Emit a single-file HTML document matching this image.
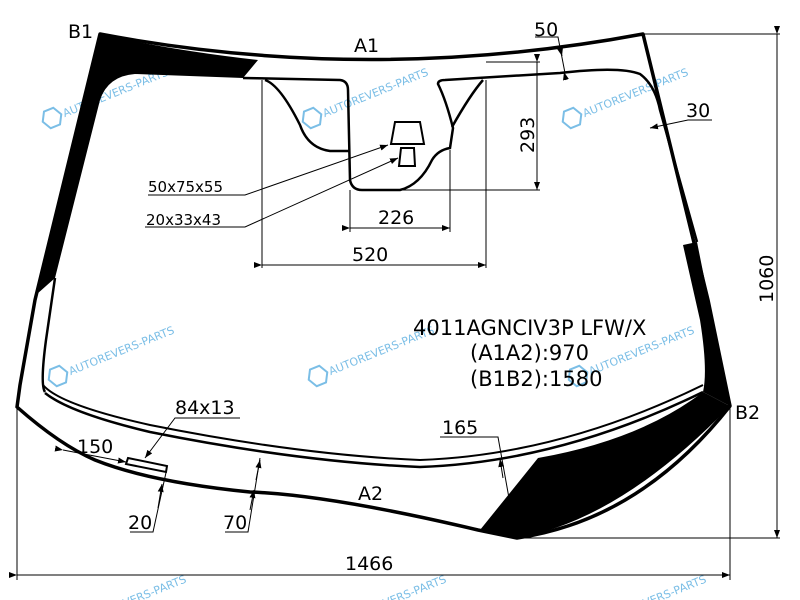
<!DOCTYPE html>
<html><head><meta charset="utf-8"><style>
html,body{margin:0;padding:0;background:#fff;}
svg{display:block;}
text{font-family:"DejaVu Sans","Liberation Sans",sans-serif;fill:#000;}
.wm{fill:#5aaee0;font-size:11px;}
</style></head><body>
<svg width="800" height="600" viewBox="0 0 800 600" xmlns="http://www.w3.org/2000/svg">
<defs>
<marker id="ar" markerWidth="8" markerHeight="6" refX="8" refY="3" orient="auto" markerUnits="userSpaceOnUse">
<path d="M0,0 L8,3 L0,6 z" fill="#000"/></marker>
</defs>
<rect width="800" height="600" fill="#fff"/>
<!-- watermarks -->
<g opacity="0.8">
<g transform="translate(52,118) rotate(-22)"><path d="M-10,0 L-5,-9 L5,-9 L10,0 L5,9 L-5,9 Z" fill="none" stroke="#5aaee0" stroke-width="2"/><text class="wm" x="12" y="4">AUTOREVERS-PARTS</text></g>
<g transform="translate(312,118) rotate(-22)"><path d="M-10,0 L-5,-9 L5,-9 L10,0 L5,9 L-5,9 Z" fill="none" stroke="#5aaee0" stroke-width="2"/><text class="wm" x="12" y="4">AUTOREVERS-PARTS</text></g>
<g transform="translate(572,118) rotate(-22)"><path d="M-10,0 L-5,-9 L5,-9 L10,0 L5,9 L-5,9 Z" fill="none" stroke="#5aaee0" stroke-width="2"/><text class="wm" x="12" y="4">AUTOREVERS-PARTS</text></g>
<g transform="translate(58,376) rotate(-22)"><path d="M-10,0 L-5,-9 L5,-9 L10,0 L5,9 L-5,9 Z" fill="none" stroke="#5aaee0" stroke-width="2"/><text class="wm" x="12" y="4">AUTOREVERS-PARTS</text></g>
<g transform="translate(318,376) rotate(-22)"><path d="M-10,0 L-5,-9 L5,-9 L10,0 L5,9 L-5,9 Z" fill="none" stroke="#5aaee0" stroke-width="2"/><text class="wm" x="12" y="4">AUTOREVERS-PARTS</text></g>
<g transform="translate(578,376) rotate(-22)"><path d="M-10,0 L-5,-9 L5,-9 L10,0 L5,9 L-5,9 Z" fill="none" stroke="#5aaee0" stroke-width="2"/><text class="wm" x="12" y="4">AUTOREVERS-PARTS</text></g>
<g transform="translate(70,625) rotate(-22)"><text class="wm" x="12" y="4">AUTOREVERS-PARTS</text></g>
<g transform="translate(330,625) rotate(-22)"><text class="wm" x="12" y="4">AUTOREVERS-PARTS</text></g>
<g transform="translate(590,625) rotate(-22)"><text class="wm" x="12" y="4">AUTOREVERS-PARTS</text></g>
</g>
<!-- black frit -->
<path d="M100,34 Q170,50 258,60 L243,78 L135,74 Q108,76 100,100 L55,278 L37,294 Z" fill="#000"/>
<path d="M683,245 L697,242 L730,406 L703,392 Q708,370 700,320 Z" fill="#000"/>
<path d="M538,458 L480,530 L517,538 Q620,520 730,406 L703,392 Q640,440 538,458 Z" fill="#000"/>
<!-- outer outline -->
<path d="M100,34 Q370,85 643,34 L708,300 L730,406 Q640,520 517,538 L478,530 Q330,495 250,492 Q150,482 95,460 Q60,445 17,407 L20,385 L35,300 L100,34 Z" fill="none" stroke="#000" stroke-width="3.5" stroke-linejoin="round"/>
<!-- inner outline with notch -->
<path d="M243,78 L340,80 Q348,81 348,90 L350,180 Q352,190 362,190 L400,190 Q420,185 432,160 Q438,150 450,148 L453,128 Q446,100 438,84 Q438,80 445,80 L560,73 Q620,66 640,74 Q655,85 660,110 L697,242" fill="none" stroke="#000" stroke-width="2.5"/>
<path d="M55,278 L46,340 Q40,385 45,392" fill="none" stroke="#000" stroke-width="2.5"/>
<!-- double lower strip -->
<path d="M43,385 Q60,405 150,425 Q300,455 420,460 Q560,455 703,385" fill="none" stroke="#000" stroke-width="2"/>
<path d="M45,393 Q70,413 150,432 Q300,462 420,467 Q560,462 703,392" fill="none" stroke="#000" stroke-width="2.5"/>
<!-- brackets -->
<path d="M265,80 Q280,85 300,125 Q308,148 330,151 L349,151" fill="none" stroke="#000" stroke-width="2.5"/>
<path d="M483,80 Q470,95 452,127" fill="none" stroke="#000" stroke-width="2.5"/>
<path d="M395,122 L420,122 L424,144 L391,144 Z" fill="none" stroke="#000" stroke-width="2"/>
<path d="M401,148 L414,148 L415,166 L399,166 Z" fill="none" stroke="#000" stroke-width="2"/>
<!-- small rect 84x13 -->
<path d="M128,458 L167,466 L166,472 L126,464 Z" fill="#fff" stroke="#000" stroke-width="2"/>
<!-- dimension lines -->
<g stroke="#000" stroke-width="1" fill="none">
<line x1="486" y1="62" x2="540" y2="62"/><line x1="362" y1="190" x2="540" y2="190"/>
<line x1="537" y1="62" x2="537" y2="190" marker-start="url(#ar)" marker-end="url(#ar)"/>
<line x1="350" y1="190" x2="350" y2="232"/><line x1="450" y1="150" x2="450" y2="232"/>
<line x1="350" y1="228" x2="450" y2="228" marker-start="url(#ar)" marker-end="url(#ar)"/>
<line x1="262" y1="80" x2="262" y2="268"/><line x1="486" y1="80" x2="486" y2="268"/>
<line x1="262" y1="265" x2="486" y2="265" marker-start="url(#ar)" marker-end="url(#ar)"/>
<polyline points="148,195 245,195 388,145" marker-end="url(#ar)"/>
<polyline points="145,227 245,227 398,158" marker-end="url(#ar)"/>
<polyline points="535,37 558,37 565,73"/>
<line x1="560" y1="48" x2="562" y2="56" marker-end="url(#ar)"/>
<line x1="566" y1="80" x2="564" y2="72" marker-end="url(#ar)"/>
<polyline points="712,120 688,120 650,128" marker-end="url(#ar)"/>
<line x1="643" y1="34" x2="780" y2="34"/><line x1="517" y1="538" x2="780" y2="538"/>
<line x1="777" y1="34" x2="777" y2="538" marker-start="url(#ar)" marker-end="url(#ar)"/>
<line x1="17" y1="407" x2="17" y2="580"/><line x1="730" y1="406" x2="730" y2="580"/>
<line x1="17" y1="575" x2="730" y2="575" marker-start="url(#ar)" marker-end="url(#ar)"/>
<polyline points="240,418 175,418 145,458" marker-end="url(#ar)"/>
<line x1="63" y1="450" x2="126" y2="462" marker-start="url(#ar)" marker-end="url(#ar)"/>
<polyline points="130,532 153,532 167,468"/>
<line x1="158" y1="508" x2="162" y2="484" marker-end="url(#ar)"/>
<polyline points="225,532 248,532 260,458"/>
<line x1="250" y1="510" x2="254" y2="490" marker-end="url(#ar)"/>
<line x1="256" y1="480" x2="260" y2="460" marker-end="url(#ar)"/>
<polyline points="440,437 498,437 516,537" marker-end="url(#ar)"/>
<line x1="503" y1="478" x2="500" y2="459" marker-end="url(#ar)"/>
</g>
<!-- labels -->
<g font-size="19">
<text x="68" y="38">B1</text>
<text x="354" y="52">A1</text>
<text x="735" y="419">B2</text>
<text x="358" y="500">A2</text>
<text x="534" y="36">50</text>
<text x="686" y="117">30</text>
<text x="378" y="224">226</text>
<text x="352" y="261">520</text>
<text transform="translate(534,153) rotate(-90)">293</text>
<text transform="translate(773,303) rotate(-90)">1060</text>
<text x="345" y="570">1466</text>
<text x="175" y="414">84x13</text>
<text x="77" y="453">150</text>
<text x="128" y="529">20</text>
<text x="223" y="529">70</text>
<text x="442" y="434">165</text>
</g>
<g font-size="15">
<text x="148" y="192">50x75x55</text>
<text x="146" y="225">20x33x43</text>
</g>
<g font-size="21">
<text x="413" y="335">4011AGNCIV3P LFW/X</text>
<text x="470" y="360">(A1A2):970</text>
<text x="470" y="386">(B1B2):1580</text>
</g>
</svg>
</body></html>
